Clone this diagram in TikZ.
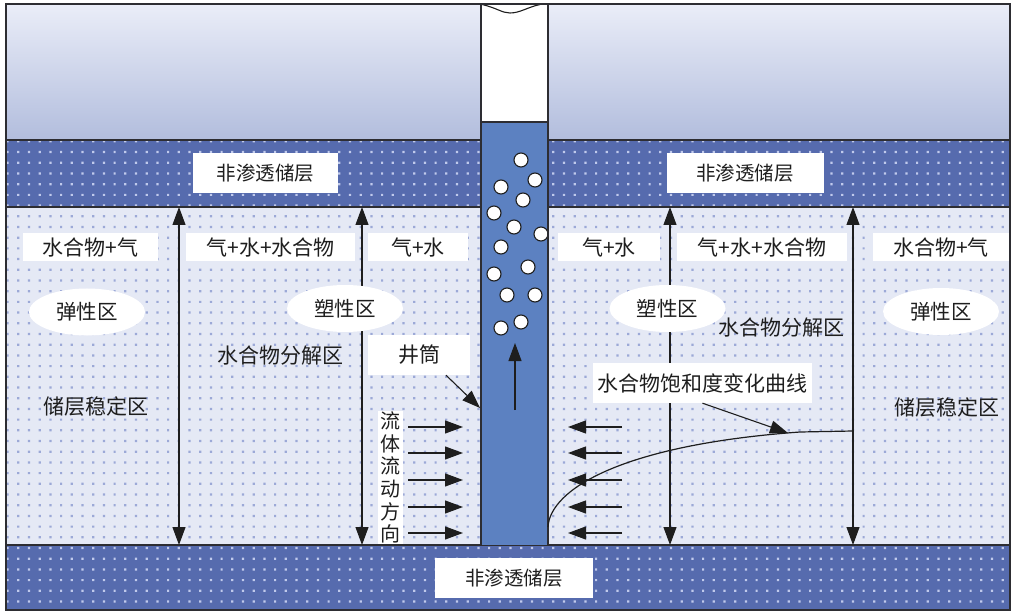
\documentclass[tikz,border=0pt]{standalone}
\usepackage{fontspec}
\setmainfont{Noto Sans CJK SC}
\usetikzlibrary{arrows.meta,shapes.geometric}

\definecolor{skytop}{RGB}{234,237,248}
\definecolor{skybot}{RGB}{178,189,221}
\definecolor{seal}{RGB}{86,107,174}
\definecolor{sealdot}{RGB}{192,202,236}
\definecolor{res}{RGB}{229,233,245}
\definecolor{resdot}{RGB}{156,169,215}
\definecolor{well}{RGB}{92,129,193}
\definecolor{ink}{RGB}{30,30,30}
\definecolor{edge}{RGB}{45,45,50}

\tikzset{
  txt/.style={inner sep=0pt, text=ink, font=\fontsize{21}{21}\selectfont},
  tagbox/.style={txt, fill=white, minimum height=28},
  layerbox/.style={txt, fill=white, minimum height=40, font=\fontsize{19.5}{19.5}\selectfont},
  zone/.style={txt, ellipse, fill=white, minimum width=116, minimum height=47, font=\fontsize{20.5}{20.5}\selectfont},
  dbl/.style={{Triangle[length=18pt,width=13pt]}-{Triangle[length=18pt,width=13pt]}, line width=1.1pt, draw=ink},
  ptr/.style={-{Triangle[length=18pt,width=13pt]}, line width=1.1pt, draw=ink},
  bubble/.style={draw=ink, fill=white, line width=1.1pt},
}

\begin{document}
\begin{tikzpicture}[x=1pt,y=-1pt]
\useasboundingbox (0,0) rectangle (1012,612);

% overburden with a vertical gradient
\shade[top color=skytop, bottom color=skybot] (6,4) rectangle (1010,140);

% sealing layers and the reservoir
\fill[seal] (6,140) rectangle (1010,207);
\fill[seal] (6,545) rectangle (1010,610);
\fill[res] (6,207) rectangle (1010,545);

% dotted texture
\begin{scope}
  \clip (6,140) rectangle (1010,207);
  \fill[sealdot] \foreach \i in {0,...,93} {\foreach \j in {0,...,6}
    {({7.6+10.7*\i-1.1},{141.4+10.7*\j-1.1}) rectangle ++(2.2,2.2)}};
\end{scope}
\begin{scope}
  \clip (6,207) rectangle (1010,545);
  \fill[resdot] \foreach \i in {0,...,93} {\foreach \j in {6,...,38}
    {({7.6+10.7*\i-1.1},{141.4+10.7*\j-1.1}) rectangle ++(2.2,2.2)}};
\end{scope}
\begin{scope}
  \clip (6,545) rectangle (1010,610);
  \fill[sealdot] \foreach \i in {0,...,93} {\foreach \j in {37,...,44}
    {({7.6+10.7*\i-1.1},{141.4+10.7*\j-1.1}) rectangle ++(2.2,2.2)}};
\end{scope}

% layer boundaries
\draw[edge, line width=1.3pt] (6,140) -- (1010,140) (6,207) -- (1010,207) (6,545) -- (1010,545);

% wellbore
\fill[white] (481,4) rectangle (548,122);
\fill[well] (481,122) rectangle (548,545);
\foreach \p in {(521,160),(535,180),(501,187),(523,200),(494,213),(514,227),(541,234),
                (501,247),(528,267),(494,274),(507,295),(535,295),(521,322),(501,328)}
  \draw[bubble] \p circle[radius=7pt];
\draw[edge, line width=1.2pt] (481,4) -- (481,545) (548,4) -- (548,545) (481,122) -- (548,122);
\draw[ink, line width=1.1pt] (482,4.5) .. controls (497,8) and (502,13) .. (510,13)
  .. controls (520,13) and (528,7) .. (540,4.5);
\coordinate (upB) at (515,410);
\coordinate (upT) at (515,343);
\draw[ptr] (upB) -- (upT);

% outer frame
\draw[edge, line width=1.3pt] (6,4) rectangle (1010,610);

% zone boundaries (double arrows)
\foreach \n/\x in {a/179,b/362,c/670,d/853} {
  \coordinate (\n top) at (\x,207);
  \coordinate (\n bot) at (\x,545);
  \draw[dbl] (\n top) -- (\n bot);
}

% hydrate saturation curve
\coordinate (s0) at (548,527);
\coordinate (s1) at (800,432);
\coordinate (s2) at (853,431);
\draw[ink, line width=1.2pt] (s0) .. controls (550,490) and (620,445) .. (s1) -- (s2);

% fluid flow arrows towards the wellbore
\foreach \k/\y in {1/427,2/453,3/480,4/507,5/533} {
  \coordinate (fl\k) at (408,\y);
  \coordinate (fr\k) at (463,\y);
  \draw[ptr] (fl\k) -- (fr\k);
  \coordinate (gl\k) at (622,\y);
  \coordinate (gr\k) at (568,\y);
  \draw[ptr] (gl\k) -- (gr\k);
}

% layer labels
\node[layerbox, minimum width=145] (sealL) at (265.5,173) {非渗透储层};
\node[layerbox, minimum width=157] (sealR) at (745,173) {非渗透储层};
\node[layerbox, minimum width=158] (sealB) at (514,578.3) {非渗透储层};

% phase labels
\node[tagbox, minimum width=135] (phL1) at (90.5,247.5) {水合物+气};
\node[tagbox, minimum width=169] (phL2) at (270.5,247.5) {气+水+水合物};
\node[tagbox, minimum width=100] (phL3) at (418,247.5) {气+水};
\node[tagbox, minimum width=102] (phR3) at (609,247.5) {气+水};
\node[tagbox, minimum width=170] (phR2) at (762,247.5) {气+水+水合物};
\node[tagbox, minimum width=136] (phR1) at (941,247.5) {水合物+气};

% mechanical zones
\node[zone] (elL) at (87,312) {弹性区};
\node[zone] (plL) at (345,308.5) {塑性区};
\node[zone] (plR) at (667.5,308.5) {塑性区};
\node[zone] (elR) at (941,311.5) {弹性区};

% zone descriptions
\node[txt] (decL) at (280,356) {水合物分解区};
\node[txt] (decR) at (781,328) {水合物分解区};
\node[txt] (stL) at (96,407) {储层稳定区};
\node[txt] (stR) at (947,408) {储层稳定区};

% wellbore callout
\node[tagbox, minimum width=102, minimum height=40] (jt) at (419,355) {井筒};
\coordinate (wellHit) at (480,408);
\draw[ptr] ([xshift=27pt]jt.south) -- (wellHit);

% saturation curve callout
\node[tagbox, minimum width=219, minimum height=40] (sat) at (702.5,383) {水合物饱和度变化曲线};
\coordinate (curveHit) at (788,433);
\draw[ptr] (sat.south) -- (curveHit);

% flow direction caption
\node[txt, fill=white, inner xsep=2.5pt, inner ysep=1pt, align=center,
      font=\fontsize{20}{22.6}\selectfont] (flow) at (390,477.5) {流\\体\\流\\动\\方\\向};
\end{tikzpicture}
\end{document}
